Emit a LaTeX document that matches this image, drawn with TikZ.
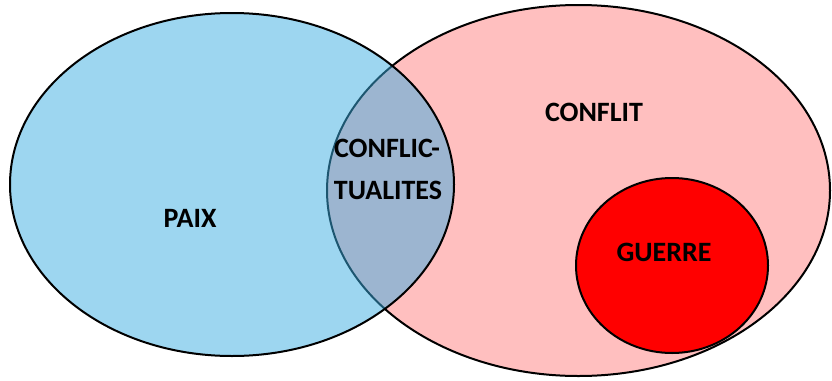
\documentclass[tikz,border=0pt]{standalone}
\usepackage{fontspec}
\setmainfont{Carlito}
\definecolor{pinkfill}{RGB}{255,191,191}
\definecolor{bluebase}{RGB}{59,173,225}
\definecolor{guerrered}{RGB}{255,0,0}
\begin{document}
\begin{tikzpicture}[x=1pt,y=-1pt,
  setline/.style={draw=black,line width=2pt},
  lbl/.style={font=\fontsize{28}{34}\selectfont\bfseries,inner sep=0pt,align=center}]
\useasboundingbox (0,0) rectangle (832,380);
% CONFLIT set
\draw[setline,fill=pinkfill] (578.5,190.5) ellipse [x radius=251.5,y radius=185.5];
% GUERRE set
\draw[setline,fill=guerrered] (672,265.5) ellipse [x radius=96,y radius=87.5];
% PAIX set (semi-transparent, on top)
\fill[bluebase,fill opacity=0.5] (232,184.5) ellipse [x radius=222,y radius=171.5];
\draw[setline] (232,184.5) ellipse [x radius=222,y radius=171.5];
% labels
\node[lbl] (paix) at (190,218) {PAIX};
\node[lbl] (conflit) at (594,112) {CONFLIT};
\node[lbl] (guerre) at (664,252) {GUERRE};
\node[lbl] (cf1) at (387,148) {CONFLIC-};
\node[lbl] (cf2) at (388,190) {TUALITES};
\end{tikzpicture}
\end{document}
